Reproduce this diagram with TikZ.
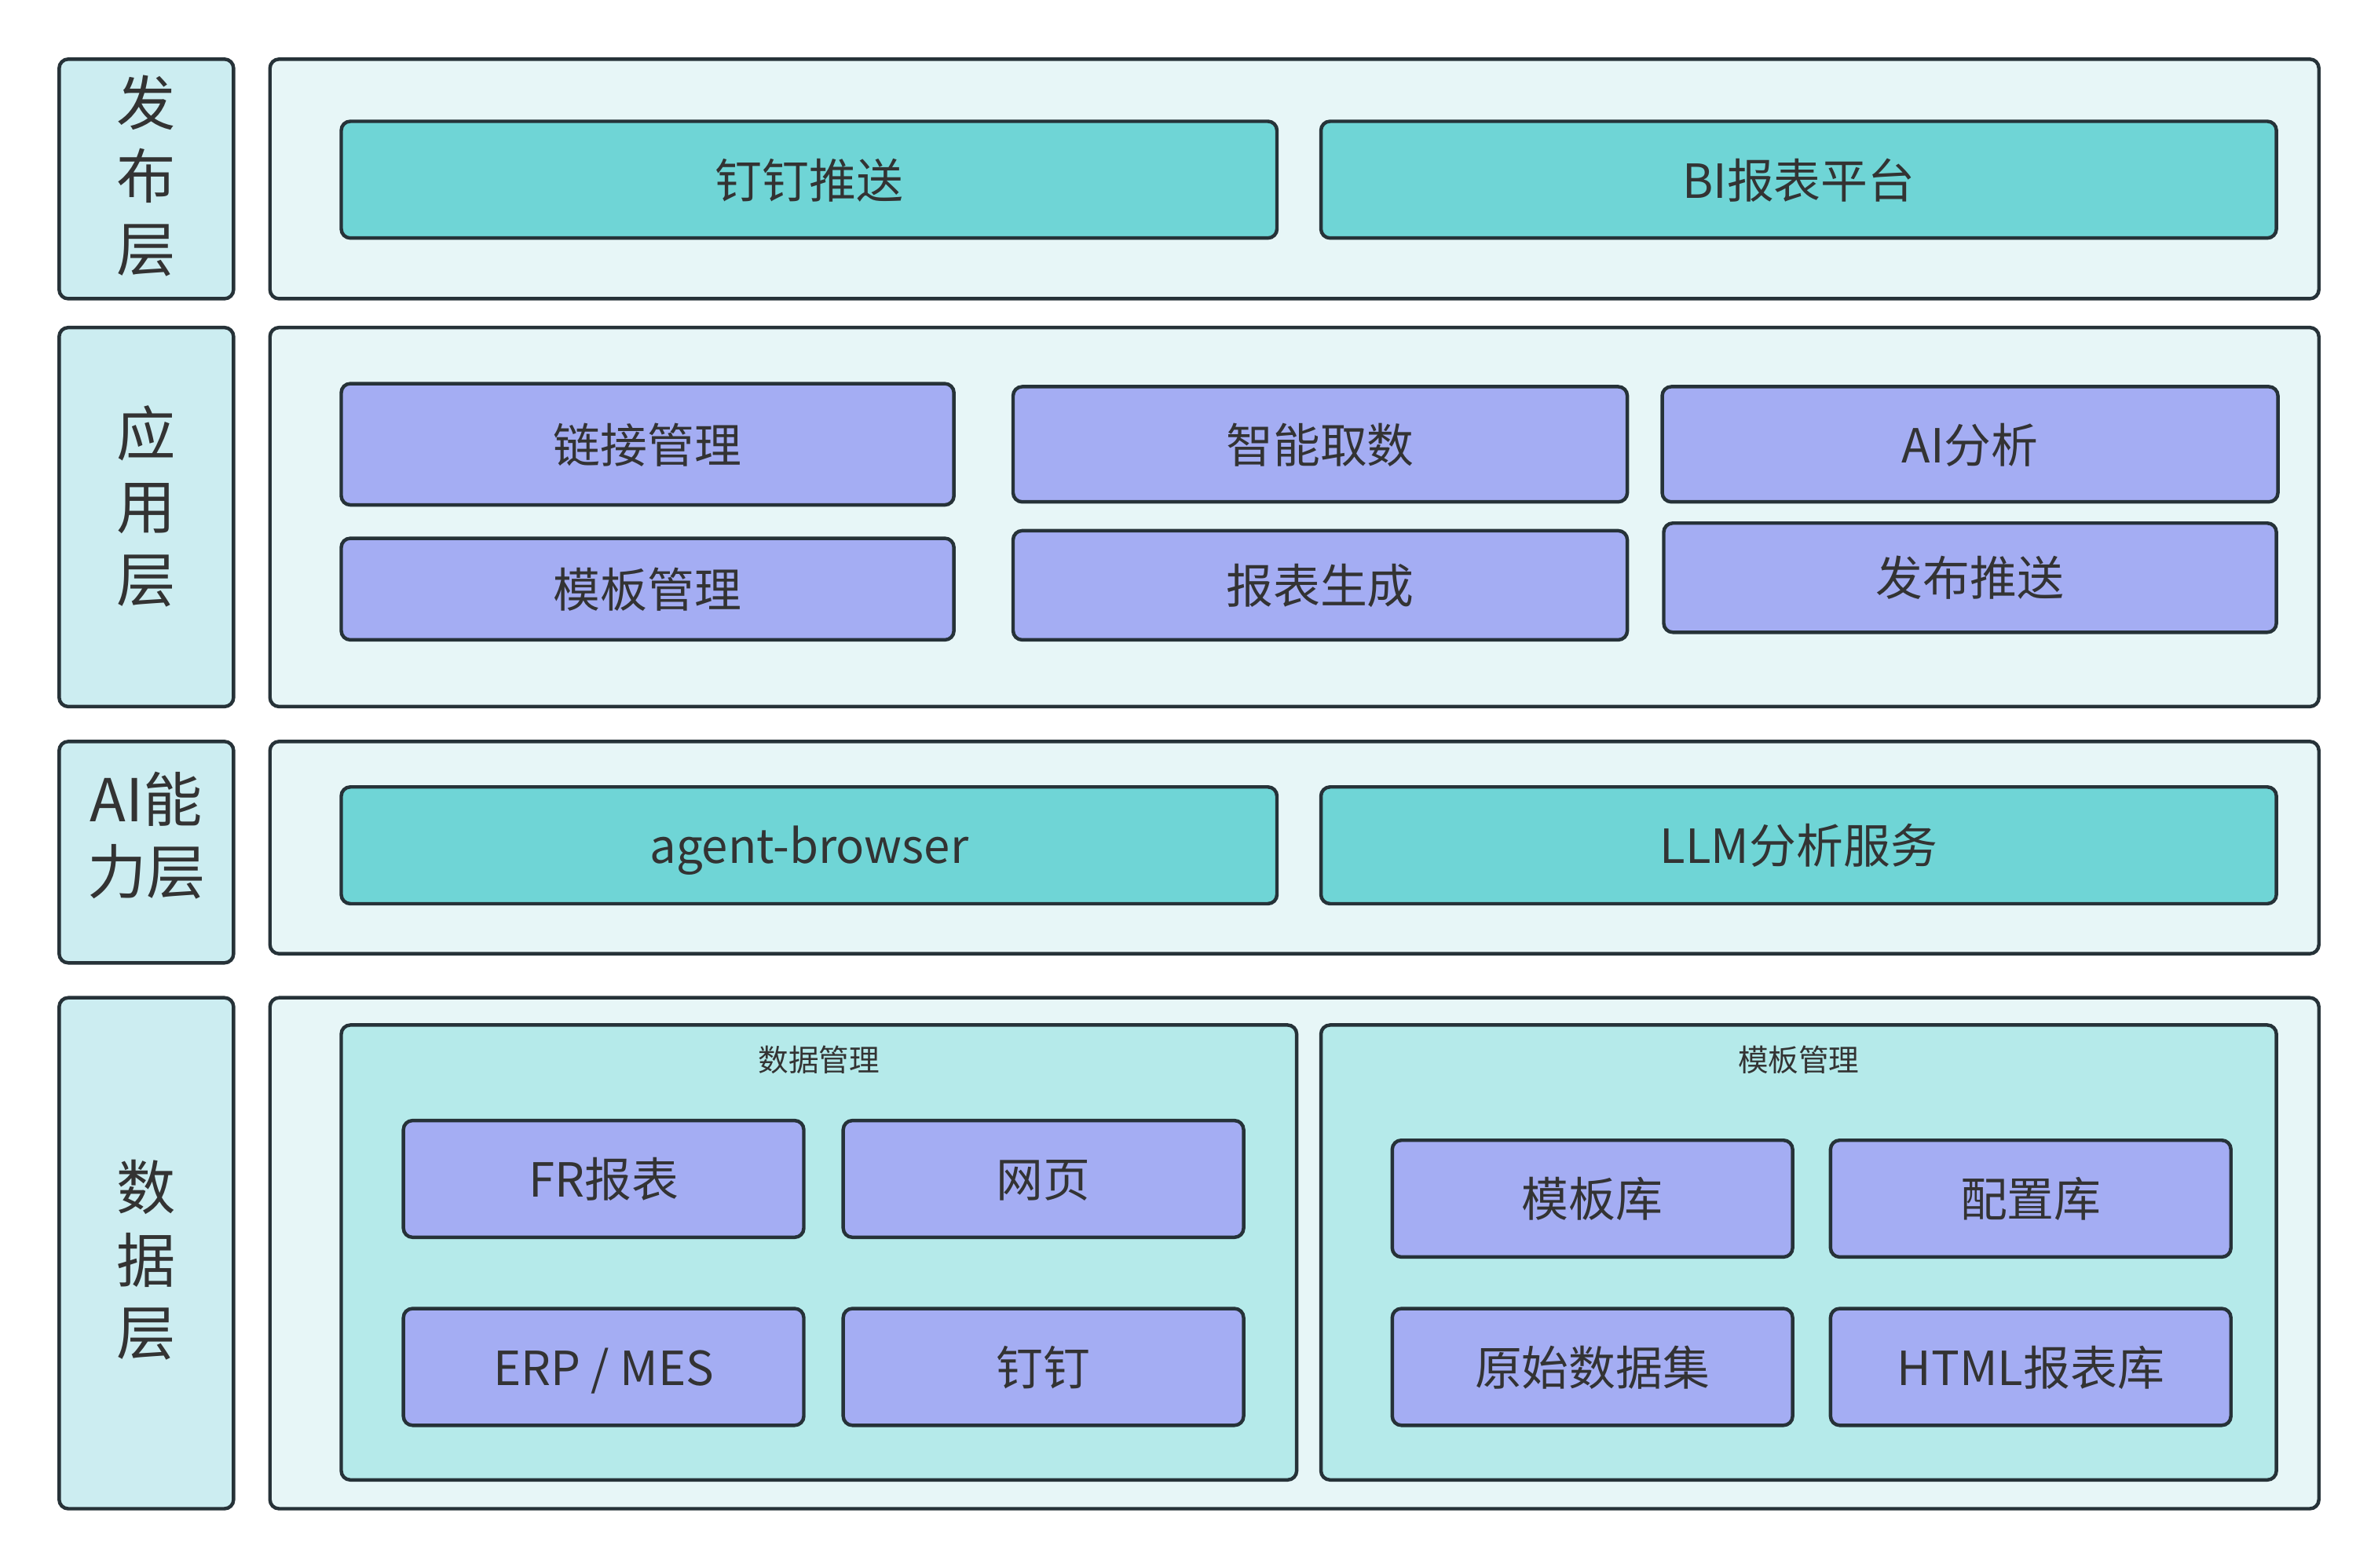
\documentclass[tikz,border=0pt]{standalone}
\usepackage{fontspec}
\setmainfont{Noto Sans CJK SC}
\definecolor{edge}{HTML}{263238}
\definecolor{ink}{HTML}{333333}
\definecolor{labelfill}{HTML}{CCEDF1}
\definecolor{panelfill}{HTML}{E7F6F7}
\definecolor{tealfill}{HTML}{6FD5D6}
\definecolor{violetfill}{HTML}{A4ADF3}
\definecolor{groupfill}{HTML}{B5EAEA}
\tikzset{
  base/.style={draw=edge, line width=2.3pt, rounded corners=6pt, inner sep=0pt, text=ink},
  layerlabel/.style={base, fill=labelfill, minimum width=115pt},
  labeltext/.style={text=ink, align=center, inner sep=0pt, font=\fontsize{39}{48}\selectfont},
  layerpanel/.style={base, fill=panelfill, minimum width=1351pt},
  boxtext/.style={font=\fontsize{31}{37}\selectfont, text height=27.5pt, text depth=3.5pt},
  tealbox/.style={base, boxtext, fill=tealfill},
  violetbox/.style={base, boxtext, fill=violetfill},
  groupbox/.style={base, fill=groupfill, minimum width=630pt, minimum height=300pt},
  grouptitle/.style={text=ink, font=\fontsize{20}{24}\selectfont},
}
\begin{document}
\begin{tikzpicture}[x=1pt, y=-1pt]
  \useasboundingbox[fill=white] (0,0) rectangle (1568,1034);
  % layer labels
  \node[layerlabel, minimum height=158pt] (pubL) at (96.5,118) {};
  \node[layerlabel, minimum height=250pt] (appL) at (96.5,341) {};
  \node[layerlabel, minimum height=146pt] (aiL) at (96.5,562) {};
  \node[layerlabel, minimum height=337pt] (dataL) at (96.5,826.5) {};
  \node[labeltext] (pubT) at (96.5,116) {发\\布\\层};
  \node[labeltext] (appT) at (96.5,334) {应\\用\\层};
  \node[labeltext] (aiT) at (96.5,551) {AI能\\力层};
  \node[labeltext] (dataT) at (96.5,831) {数\\据\\层};
  % layer panels
  \node[layerpanel, minimum height=158pt] (pubP) at (853.5,118) {};
  \node[layerpanel, minimum height=250pt] (appP) at (853.5,341) {};
  \node[layerpanel, minimum height=140pt] (aiP) at (853.5,559) {};
  \node[layerpanel, minimum height=337pt] (dataP) at (853.5,826.5) {};
  % publish layer
  \node[tealbox, minimum width=617pt, minimum height=77pt] (push) at (533.5,118.5) {钉钉推送};
  \node[tealbox, minimum width=630pt, minimum height=77pt] (bi) at (1186,118.5) {BI报表平台};
  % application layer
  \node[violetbox, minimum width=404pt, minimum height=80pt] (link) at (427,293) {链接管理};
  \node[violetbox, minimum width=405pt, minimum height=76pt] (fetch) at (870.5,293) {智能取数};
  \node[violetbox, minimum width=406pt, minimum height=76pt] (aian) at (1299,293) {AI分析};
  \node[violetbox, minimum width=404pt, minimum height=67pt] (tplm) at (427,388.5) {模板管理};
  \node[violetbox, minimum width=405pt, minimum height=72pt] (gen) at (870.5,386) {报表生成};
  \node[violetbox, minimum width=404pt, minimum height=72pt] (pub) at (1299,381) {发布推送};
  % AI layer
  \node[tealbox, minimum width=617pt, minimum height=77pt] (agent) at (533.5,557.5) {agent-browser};
  \node[tealbox, minimum width=630pt, minimum height=77pt] (llm) at (1186,557.5) {LLM分析服务};
  % data layer
  \node[groupbox] (dm) at (540,826) {};
  \node[groupbox] (tm) at (1186,826) {};
  \node[grouptitle] (dmT) at (540,699) {数据管理};
  \node[grouptitle] (tmT) at (1186,699) {模板管理};
  \node[violetbox, minimum width=264pt, minimum height=77pt] (fr) at (398,777.5) {FR报表};
  \node[violetbox, minimum width=264pt, minimum height=77pt] (web) at (688,777.5) {网页};
  \node[violetbox, minimum width=264pt, minimum height=77pt] (erp) at (398,901.5) {ERP / MES};
  \node[violetbox, minimum width=264pt, minimum height=77pt] (dd) at (688,901.5) {钉钉};
  \node[violetbox, minimum width=264pt, minimum height=77pt] (tlib) at (1050,790.5) {模板库};
  \node[violetbox, minimum width=264pt, minimum height=77pt] (clib) at (1339,790.5) {配置库};
  \node[violetbox, minimum width=264pt, minimum height=77pt] (raw) at (1050,901.5) {原始数据集};
  \node[violetbox, minimum width=264pt, minimum height=77pt] (html) at (1339,901.5) {HTML报表库};
\end{tikzpicture}
\end{document}
